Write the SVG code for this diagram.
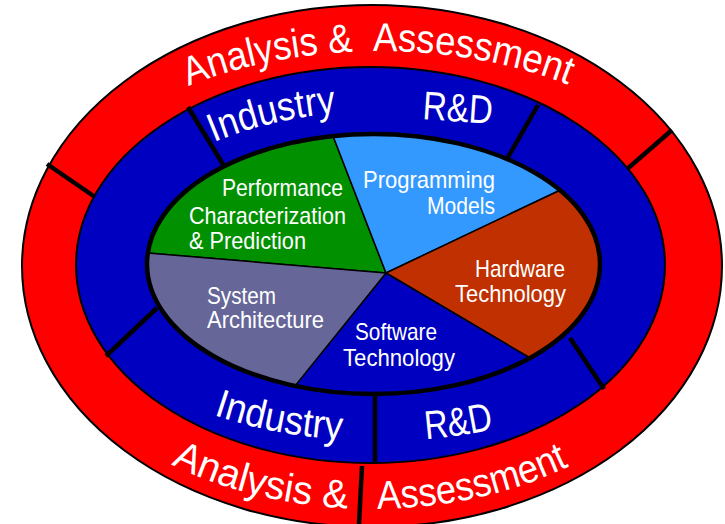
<svg xmlns="http://www.w3.org/2000/svg" width="725" height="524" viewBox="0 0 725 524">
  <style>
    .ring { stroke: #000; stroke-width: 2; }
    .div { stroke: #000; stroke-width: 4.5; stroke-linecap: butt; fill: none; }
    .sec { stroke: #000; stroke-width: 1.5; stroke-linejoin: round; }
    .big { font-family: "Liberation Sans", Arial, sans-serif; font-size: 40px; fill: #fff; }
    .lbl { font-family: "Liberation Sans Narrow", "Liberation Sans", Arial, sans-serif; font-size: 24px; fill: #fff; }
  </style>
  <defs>
    <path id="topOuter" d="M30 266 A350 215 0 0 1 730 266"/>
    <path id="botOuter" d="M24 266 A348 243 0 0 0 720 266"/>
    <path id="topBand" d="M104 266 A276 155 0 0 1 656 266"/>
    <path id="botBand" d="M62 266 A318 175 0 0 0 698 266"/>
  </defs>

  <g id="outer-ring">
    <ellipse cx="372" cy="266" rx="350" ry="261" fill="#FF0000" class="ring"/>
  </g>

  <g id="dividers">
    <line class="div" x1="47" y1="164" x2="95" y2="197"/>
    <line class="div" x1="672" y1="130" x2="626" y2="170"/>
    <line class="div" x1="362" y1="466" x2="359" y2="524"/>
  </g>

  <g id="middle-ring">
    <ellipse cx="370.5" cy="265" rx="294.5" ry="198" fill="#0000C0" class="ring"/>
  </g>

  <g id="band-dividers">
    <line class="div" x1="188" y1="107" x2="224" y2="166"/>
    <line class="div" x1="538" y1="105" x2="507" y2="159"/>
    <line class="div" x1="157" y1="308" x2="106" y2="356"/>
    <line class="div" x1="570" y1="338" x2="604" y2="389"/>
    <line class="div" x1="375" y1="394" x2="375" y2="464"/>
  </g>

  <g id="performance">
    <path class="sec" fill="#009000" d="M386 273 L147.8 253 A226.5 130 0 0 1 333 136.1 Z"/>
    <text class="lbl" x="222" y="196" textLength="121" lengthAdjust="spacingAndGlyphs">Performance</text>
    <text class="lbl" x="189" y="224" textLength="157" lengthAdjust="spacingAndGlyphs">Characterization</text>
    <text class="lbl" x="189" y="249" textLength="117" lengthAdjust="spacingAndGlyphs">&amp; Prediction</text>
  </g>

  <g id="programming">
    <path class="sec" fill="#3399FF" d="M386 273 L333 136.1 A226.5 130 0 0 1 560 190.2 Z"/>
    <text class="lbl" x="363" y="188" textLength="132" lengthAdjust="spacingAndGlyphs">Programming</text>
    <text class="lbl" x="427" y="214" textLength="68" lengthAdjust="spacingAndGlyphs">Models</text>
  </g>

  <g id="hardware">
    <path class="sec" fill="#C03000" d="M386 273 L560 190.2 A226.5 130 0 0 1 530 358 Z"/>
    <text class="lbl" x="475" y="277" textLength="90" lengthAdjust="spacingAndGlyphs">Hardware</text>
    <text class="lbl" x="455" y="302" textLength="111" lengthAdjust="spacingAndGlyphs">Technology</text>
  </g>

  <g id="software">
    <path class="sec" fill="#0000C0" d="M386 273 L530 358 A226.5 130 0 0 1 295 385.9 Z"/>
    <text class="lbl" x="355" y="340" textLength="82" lengthAdjust="spacingAndGlyphs">Software</text>
    <text class="lbl" x="343" y="366" textLength="112" lengthAdjust="spacingAndGlyphs">Technology</text>
  </g>

  <g id="system">
    <path class="sec" fill="#666699" d="M386 273 L295 385.9 A226.5 130 0 0 1 147.8 253 Z"/>
    <text class="lbl" x="207" y="304" textLength="69" lengthAdjust="spacingAndGlyphs">System</text>
    <text class="lbl" x="207" y="328" textLength="117" lengthAdjust="spacingAndGlyphs">Architecture</text>
  </g>

  <g id="pie-rim">
    <ellipse cx="373.5" cy="264" rx="226.5" ry="130" fill="none" stroke="#000" stroke-width="4.5"/>
  </g>

  <g id="ring-labels">
    <text class="big"><textPath href="#topOuter" startOffset="254" textLength="169" lengthAdjust="spacingAndGlyphs">Analysis &amp;</textPath></text>
    <text class="big"><textPath href="#topOuter" startOffset="443" textLength="199" lengthAdjust="spacingAndGlyphs">Assessment</textPath></text>
    <text class="big"><textPath href="#botOuter" startOffset="260" textLength="183" lengthAdjust="spacingAndGlyphs">Analysis &amp;</textPath></text>
    <text class="big"><textPath href="#botOuter" startOffset="473" textLength="198" lengthAdjust="spacingAndGlyphs">Assessment</textPath></text>
    <text class="big"><textPath href="#topBand" startOffset="175" textLength="126" lengthAdjust="spacingAndGlyphs">Industry</textPath></text>
    <text class="big" x="422" y="119" textLength="70" lengthAdjust="spacingAndGlyphs" transform="rotate(4 422 119)">R&amp;D</text>
    <text class="big"><textPath href="#botBand" startOffset="226" textLength="131" lengthAdjust="spacingAndGlyphs">Industry</textPath></text>
    <text class="big"><textPath href="#botBand" startOffset="441" textLength="69" lengthAdjust="spacingAndGlyphs">R&amp;D</textPath></text>
  </g>
</svg>
